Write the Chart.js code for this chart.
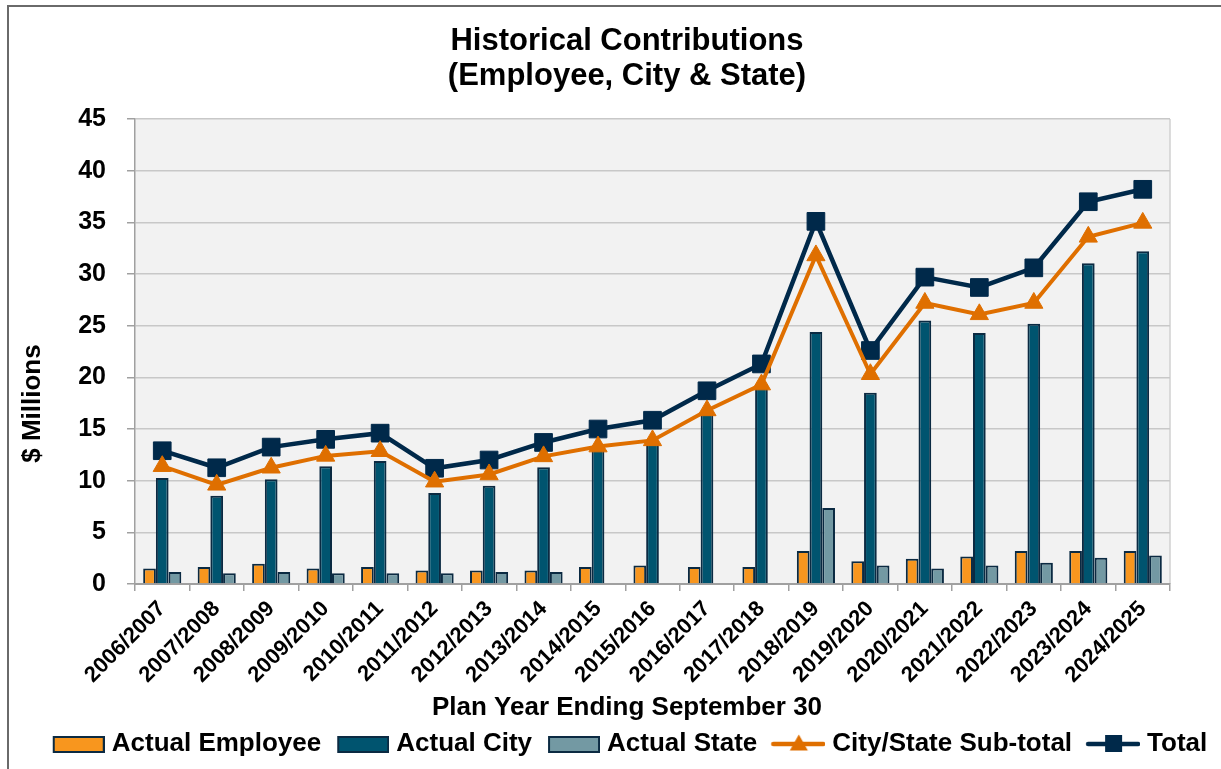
<!DOCTYPE html>
<html>
<head>
<meta charset="utf-8">
<script src="https://cdn.jsdelivr.net/npm/chart.js@4.4.1/dist/chart.umd.min.js"></script>
<style>
  html, body { margin: 0; padding: 0; background: #ffffff; overflow: hidden; }
  #wrap { position: relative; width: 1221px; height: 769px; }
  #frame { position: absolute; left: 7px; top: 5px; width: 1300px; height: 900px;
           border-left: 2px solid #6a6a6a; border-top: 2px solid #6a6a6a; pointer-events: none; }
</style>
</head>
<body>
<div id="wrap">
  <canvas id="c"></canvas>
  <div id="frame"></div>
</div>
<script>
// ---- data ----
const categories = ['2006/2007','2007/2008','2008/2009','2009/2010','2010/2011','2011/2012','2012/2013',
  '2013/2014','2014/2015','2015/2016','2016/2017','2017/2018','2018/2019','2019/2020','2020/2021',
  '2021/2022','2022/2023','2023/2024','2024/2025'];
const actualEmployee = [1.5, 1.65, 1.95, 1.5, 1.65, 1.3, 1.3, 1.3, 1.65, 1.8, 1.65, 1.65, 3.2, 2.2, 2.45, 2.65, 3.2, 3.2, 3.2];
const actualCity = [10.25, 8.55, 10.15, 11.4, 11.9, 8.8, 9.5, 11.3, 13.3, 13.9, 16.8, 19.35, 24.4, 18.5, 25.5, 24.3, 25.2, 31.05, 32.2];
const actualState = [1.15, 1.05, 1.15, 1.05, 1.05, 1.05, 1.15, 1.15, null, null, null, null, 7.35, 1.8, 1.5, 1.8, 2.05, 2.55, 2.75];
const cityStateSubtotal = [11.4, 9.6, 11.25, 12.4, 12.85, 9.9, 10.6, 12.35, 13.3, 13.9, 16.8, 19.3, 31.8, 20.3, 27.2, 26.1, 27.2, 33.6, 34.95];
const totalContrib = [12.9, 11.25, 13.25, 14.0, 14.6, 11.2, 12.0, 13.7, 15.0, 15.85, 18.7, 21.3, 35.1, 22.6, 29.7, 28.7, 30.6, 37.0, 38.2];
const seriesNames = ['Actual Employee', 'Actual City', 'Actual State', 'City/State Sub-total', 'Total'];
const yTicks = [0, 5, 10, 15, 20, 25, 30, 35, 40, 45];
const titleLines = ['Historical Contributions', '(Employee, City & State)'];
const xTitle = 'Plan Year Ending September 30';
const yTitle = '$ Millions';

// ---- styles ----
const C_EMP = '#F8961E', C_CITY = '#00546F', C_STATE = '#7399A3', C_EDGE = '#0B2A42';
const C_SUB = '#DF6F00', C_TOT = '#00294A';
Chart.defaults.font.family = "'Liberation Sans', Arial, sans-serif";
Chart.defaults.color = '#000';

// legend icons: canvas is wider than the legend slot so the glyph sits closer to its text
function boxIcon(fill) {
  const cv = document.createElement('canvas'); cv.width = 64; cv.height = 20;
  const g = cv.getContext('2d');
  g.fillStyle = fill; g.fillRect(13, 3, 50, 15);
  g.strokeStyle = C_EDGE; g.lineWidth = 2; g.strokeRect(13, 3, 50, 15);
  return cv;
}
function lineIcon(color, shape) {
  const cv = document.createElement('canvas'); cv.width = 64; cv.height = 22;
  const g = cv.getContext('2d');
  g.strokeStyle = color; g.lineWidth = 4.5; g.lineCap = 'round';
  g.beginPath(); g.moveTo(12, 11); g.lineTo(62, 11); g.stroke();
  g.fillStyle = color;
  if (shape === 'rect') { g.fillRect(29, 2, 17, 17); }
  else { g.beginPath(); g.moveTo(37.5, 1.5); g.lineTo(46.5, 17.5); g.lineTo(28.5, 17.5); g.closePath(); g.fill(); }
  return cv;
}
const icons = [boxIcon(C_EMP), boxIcon(C_CITY), boxIcon(C_STATE), lineIcon(C_SUB, 'tri'), lineIcon(C_TOT, 'rect')];

const plotBg = {
  id: 'plotBg',
  beforeDraw(chart) {
    const {ctx, chartArea: {left, top, right, bottom}} = chart;
    ctx.save();
    ctx.fillStyle = '#f2f2f2';
    ctx.fillRect(left, top, right - left, bottom - top);
    ctx.strokeStyle = '#d0d0d0'; ctx.lineWidth = 1.5;
    ctx.beginPath(); ctx.moveTo(right, top); ctx.lineTo(right, bottom); ctx.stroke();
    ctx.restore();
  }
};

const barCommon = { borderColor: C_EDGE, borderWidth: 2, categoryPercentage: 0.70, barPercentage: 1.0, order: 2 };

new Chart(document.getElementById('c'), {
  type: 'bar',
  data: {
    labels: categories,
    datasets: [
      Object.assign({ label: seriesNames[0], data: actualEmployee, backgroundColor: C_EMP }, barCommon),
      Object.assign({ label: seriesNames[1], data: actualCity, backgroundColor: C_CITY }, barCommon),
      Object.assign({ label: seriesNames[2], data: actualState, backgroundColor: C_STATE }, barCommon),
      { type: 'line', label: seriesNames[3], data: cityStateSubtotal, borderColor: C_SUB, backgroundColor: C_SUB,
        borderWidth: 4, pointStyle: 'triangle', pointRadius: 10.5, pointHoverRadius: 10.5,
        pointBackgroundColor: C_SUB, pointBorderColor: C_SUB, pointBorderWidth: 1, tension: 0, order: 1 },
      { type: 'line', label: seriesNames[4], data: totalContrib, borderColor: C_TOT, backgroundColor: C_TOT,
        borderWidth: 4.5, pointStyle: 'rect', pointRadius: 12.5, pointHoverRadius: 12.5,
        pointBackgroundColor: C_TOT, pointBorderColor: C_TOT, pointBorderWidth: 1, tension: 0, order: 1 }
    ]
  },
  options: {
    responsive: true,
    maintainAspectRatio: false,
    animation: false,
    layout: { padding: { left: 33, right: 0, top: 6, bottom: 2 } },
    plugins: {
      tooltip: { enabled: false },
      title: {
        display: true, text: titleLines, color: '#000',
        font: { size: 31, weight: 'bold', lineHeight: 1.13 },
        padding: { top: 17.5, bottom: 25.5 }
      },
      legend: {
        position: 'bottom',
        title: { display: true, text: xTitle, color: '#000', position: 'center',
                 font: { size: 26, weight: 'bold', lineHeight: 1 }, padding: { top: 0, bottom: 0 } },
        labels: {
          usePointStyle: true, pointStyleWidth: 52, padding: 10, color: '#000',
          font: { size: 26, weight: 'bold' },
          generateLabels(chart) {
            return chart.data.datasets.map((ds, i) => ({
              text: ds.label, pointStyle: icons[i], datasetIndex: i,
              fillStyle: ds.backgroundColor, strokeStyle: ds.borderColor, lineWidth: 0,
              hidden: !chart.isDatasetVisible(i), fontColor: '#000'
            }));
          }
        }
      }
    },
    scales: {
      x: {
        grid: { display: true, drawOnChartArea: false, offset: true, tickLength: 7, color: '#a0a0a0', lineWidth: 1.5 },
        border: { display: true, color: '#a0a0a0', width: 2 },
        ticks: { color: '#000', font: { size: 22, weight: 'bold' }, maxRotation: 45, minRotation: 45,
                 autoSkip: false, padding: 5 },
        afterFit(scale) { scale.height = 111; }
      },
      y: {
        min: 0, max: 45,
        afterBuildTicks(scale) { scale.ticks = yTicks.map(v => ({ value: v })); },
        grid: { color: '#c8c8c8', lineWidth: 1.5, tickLength: 8, tickColor: '#a0a0a0' },
        border: { display: true, color: '#a0a0a0', width: 1.5 },
        ticks: { color: '#000', font: { size: 25, weight: 'bold' }, padding: 21 },
        title: { display: true, text: yTitle + '\u2003\u2003\u2003\u2003', color: '#000',
                 font: { size: 26, weight: 'bold' }, padding: { top: -15.6, bottom: 0 } },
        afterFit(scale) { scale.width = 102; }
      },
      yR: {
        position: 'right', display: true, min: 0, max: 45,
        grid: { display: false }, border: { display: false }, ticks: { display: false },
        afterFit(scale) { scale.width = 51; }
      }
    }
  },
  plugins: [plotBg]
});
</script>
</body>
</html>
